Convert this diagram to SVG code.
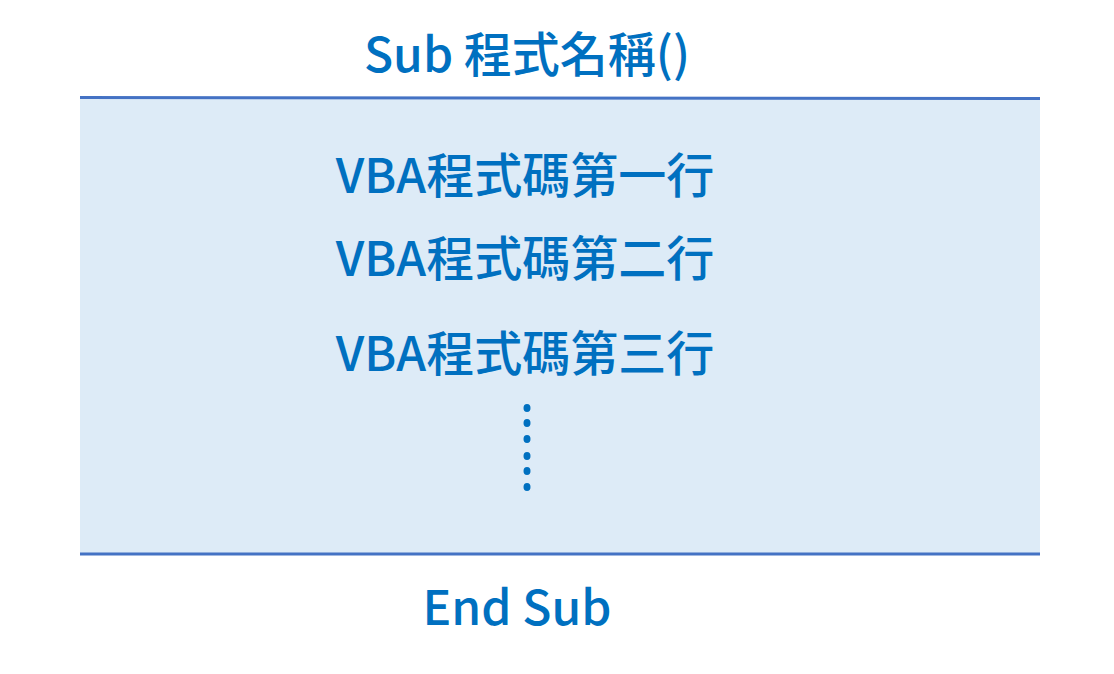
<svg xmlns="http://www.w3.org/2000/svg" width="1114" height="674" viewBox="0 0 1114 674">
<style>
.t{font-family:"Noto Sans CJK TC","Noto Sans",sans-serif;font-weight:500;font-size:48px;fill:#0070C0;text-anchor:middle}
.ln{stroke:#4472C4;stroke-width:3}
.dot{fill:#0070C0}
</style>
<rect width="1114" height="674" fill="#ffffff"/>
<g id="header"><text class="t" x="527" y="72">Sub 程式名稱()</text></g>
<g id="body">
<rect x="80" y="97" width="960" height="457" fill="#DDEBF7"/>
<text class="t" x="525" y="193">VBA程式碼第一行</text>
<text class="t" x="525" y="276">VBA程式碼第二行</text>
<text class="t" x="525" y="371">VBA程式碼第三行</text>
<g class="dot">
<ellipse cx="527" cy="408" rx="3.5" ry="4"/>
<ellipse cx="527" cy="423" rx="3.5" ry="4"/>
<ellipse cx="527" cy="439" rx="3.5" ry="4"/>
<ellipse cx="527" cy="456" rx="3.5" ry="4"/>
<ellipse cx="527" cy="471" rx="3.5" ry="4"/>
<ellipse cx="527" cy="487" rx="3.5" ry="4"/>
</g>
</g>
<g id="connectors">
<line class="ln" x1="80" y1="97.5" x2="1040" y2="98.5"/>
<line class="ln" x1="80" y1="554" x2="1040" y2="554"/>
</g>
<g id="footer"><text class="t" x="517" y="625">End Sub</text></g>
</svg>
